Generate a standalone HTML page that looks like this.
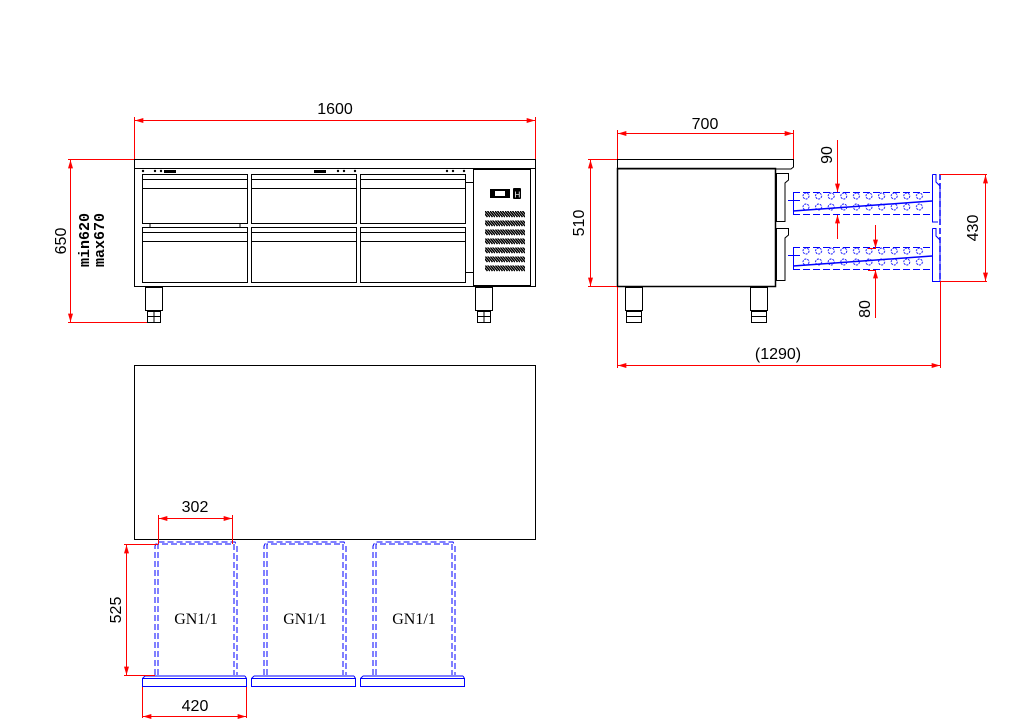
<!DOCTYPE html>
<html><head><meta charset="utf-8"><style>
html,body{margin:0;padding:0;background:#fff;}
svg{display:block;}
text{font-family:"Liberation Serif","DejaVu Serif",serif;font-size:16px;fill:#000;}
</style></head><body>
<svg width="1033" height="728" viewBox="0 0 1033 728" xmlns="http://www.w3.org/2000/svg">
<defs>
<marker id="a" viewBox="0 0 10 6" refX="10" refY="3" markerWidth="12" markerHeight="5" orient="auto-start-reverse" markerUnits="userSpaceOnUse"><path d="M0,0L10,3L0,6z" fill="#f00"/></marker>
<pattern id="vent" x="485" y="211" width="5" height="9" patternUnits="userSpaceOnUse"><path d="M0,0L5,6M-2.5,0L2.5,6M2.5,0L7.5,6" stroke="#000" stroke-width="1.5"/></pattern>
<pattern id="circ" x="800" y="192" width="12.6" height="11" patternUnits="userSpaceOnUse"><circle cx="6" cy="4" r="3" fill="none" stroke="#00f" stroke-width="0.9" stroke-dasharray="2 1"/></pattern>
</defs>

<!-- FRONT VIEW -->
<g fill="none" stroke="#000" stroke-width="1">
<rect x="134.5" y="159.5" width="401" height="9"/>
<rect x="134.5" y="168.5" width="401" height="118"/>
<g>
<rect x="142.5" y="174.5" width="105" height="49"/><line x1="143" y1="179.5" x2="247" y2="179.5"/><line x1="143" y1="188.5" x2="247" y2="188.5"/>
<rect x="251.5" y="174.5" width="105" height="49"/><line x1="252" y1="179.5" x2="356" y2="179.5"/><line x1="252" y1="188.5" x2="356" y2="188.5"/>
<rect x="360.5" y="174.5" width="105" height="49"/><line x1="361" y1="179.5" x2="465" y2="179.5"/><line x1="361" y1="188.5" x2="465" y2="188.5"/>
<rect x="142.5" y="227.5" width="105" height="55"/><line x1="143" y1="232.5" x2="247" y2="232.5"/><line x1="143" y1="241.5" x2="247" y2="241.5"/>
<rect x="251.5" y="227.5" width="105" height="55"/><line x1="252" y1="232.5" x2="356" y2="232.5"/><line x1="252" y1="241.5" x2="356" y2="241.5"/>
<rect x="360.5" y="227.5" width="105" height="55"/><line x1="361" y1="232.5" x2="465" y2="232.5"/><line x1="361" y1="241.5" x2="465" y2="241.5"/>
</g>
<line x1="466" y1="182.5" x2="473" y2="182.5"/><line x1="466" y1="272.5" x2="473" y2="272.5"/>
<line x1="150" y1="223.5" x2="150" y2="227"/><line x1="240" y1="223.5" x2="240" y2="227"/>
<rect x="473.5" y="169.5" width="57" height="116"/>
<line x1="530.5" y1="169" x2="530.5" y2="286"/>
<rect x="145.5" y="287.5" width="17" height="23"/><rect x="147.5" y="311.5" width="13" height="11"/>
<line x1="148" y1="316.5" x2="160" y2="316.5"/><line x1="154" y1="312" x2="154" y2="322"/>
<rect x="475.5" y="287.5" width="17" height="23"/><rect x="477.5" y="311.5" width="13" height="11"/>
<line x1="478" y1="316.5" x2="490" y2="316.5"/><line x1="484" y1="312" x2="484" y2="322"/>
</g>
<g fill="#000">
<circle cx="143" cy="171" r="1.2"/><circle cx="155" cy="171" r="1.2"/><circle cx="161" cy="171" r="1.2"/>
<rect x="164" y="170" width="12" height="3"/><rect x="314" y="170" width="12" height="3"/>
<circle cx="338" cy="171" r="1.2"/><circle cx="344" cy="171" r="1.2"/><circle cx="355" cy="171" r="1.2"/>
<circle cx="447" cy="171" r="1.2"/><circle cx="453" cy="171" r="1.2"/><circle cx="464" cy="171" r="1.2"/>
<rect x="490" y="189" width="20" height="9"/><rect x="513" y="188" width="8" height="11" rx="1"/>
</g>
<rect x="495" y="191" width="10" height="5" fill="#fff"/>
<text x="514.5" y="197.5" style="font-size:8px;fill:#fff;font-family:'Liberation Sans',sans-serif">H</text>
<rect x="485" y="211" width="40" height="62" fill="url(#vent)"/>
<g stroke="#fff" stroke-width="2"><line x1="484" y1="219.5" x2="526" y2="219.5"/><line x1="484" y1="228.5" x2="526" y2="228.5"/><line x1="484" y1="237.5" x2="526" y2="237.5"/><line x1="484" y1="246.5" x2="526" y2="246.5"/><line x1="484" y1="255.5" x2="526" y2="255.5"/><line x1="484" y1="264.5" x2="526" y2="264.5"/></g>

<g stroke="#f00" stroke-width="1" fill="none">
<line x1="134.5" y1="117" x2="134.5" y2="159"/><line x1="535.5" y1="117" x2="535.5" y2="159"/>
<line x1="135" y1="120.5" x2="535" y2="120.5" marker-start="url(#a)" marker-end="url(#a)"/>
<line x1="68" y1="159.5" x2="134" y2="159.5"/><line x1="68" y1="322.5" x2="147" y2="322.5"/>
<line x1="70.5" y1="160" x2="70.5" y2="322" marker-start="url(#a)" marker-end="url(#a)"/>
</g>
<text x="335" y="114" text-anchor="middle" style="font-family:'Liberation Sans',sans-serif">1600</text>
<text transform="translate(66,241) rotate(-90)" text-anchor="middle" style="font-family:'Liberation Sans',sans-serif">650</text>
<text transform="translate(89,240) rotate(-90)" text-anchor="middle" style="font-family:'Liberation Mono',monospace;font-size:15px;font-weight:bold">min620</text>
<text transform="translate(104,240) rotate(-90)" text-anchor="middle" style="font-family:'Liberation Mono',monospace;font-size:15px;font-weight:bold">max670</text>

<!-- SIDE VIEW -->
<g fill="none" stroke="#000" stroke-width="1">
<path d="M617.5,159.5H793.5V167L791,169H617.5Z"/>
<rect x="617.5" y="168.5" width="158" height="118" stroke-width="1.5"/>
<path d="M776.5,173.5H788.5V180L785,183V221.5H776.5Z"/>
<path d="M776.5,228.5H788.5V235L785,238V280.5H776.5Z"/>
<rect x="625.5" y="287.5" width="17" height="23"/><rect x="626.5" y="311.5" width="15" height="11"/>
<line x1="627" y1="316.5" x2="641" y2="316.5"/>
<rect x="750.5" y="287.5" width="17" height="23"/><rect x="751.5" y="311.5" width="15" height="11"/>
<line x1="752" y1="316.5" x2="766" y2="316.5"/>
</g>
<g fill="none" stroke="#00f" stroke-width="1">
<line x1="793" y1="192.5" x2="932" y2="192.5" stroke-dasharray="7 3"/>
<line x1="793" y1="214.5" x2="932" y2="214.5" stroke-dasharray="7 3"/>
<line x1="788" y1="200.5" x2="800" y2="200.5"/>
<line x1="793.5" y1="192" x2="793.5" y2="215"/>
<line x1="932.5" y1="192" x2="932.5" y2="215"/>
<line x1="793" y1="211" x2="932" y2="201" stroke-width="1.5"/>
<line x1="793" y1="247.5" x2="932" y2="247.5" stroke-dasharray="7 3"/>
<line x1="793" y1="269.5" x2="932" y2="269.5" stroke-dasharray="7 3"/>
<line x1="788" y1="255.5" x2="800" y2="255.5"/>
<line x1="793.5" y1="247" x2="793.5" y2="270"/>
<line x1="932.5" y1="247" x2="932.5" y2="270"/>
<line x1="793" y1="266" x2="932" y2="256" stroke-width="1.5"/>
<path d="M932.5,174.5H936V182L940,186V222M932.5,174.5V222H938"/>
<path d="M932.5,228.5H936V236L940,240V281.5M932.5,228.5V281.5H940"/>
<line x1="940" y1="174" x2="940" y2="282" stroke-dasharray="6 3" stroke-width="1.5"/>
</g>
<rect x="800" y="192" width="128" height="22" fill="url(#circ)"/>
<rect x="800" y="247" width="128" height="22" fill="url(#circ)"/>
<g stroke="#f00" stroke-width="1" fill="none">
<line x1="617.5" y1="130" x2="617.5" y2="159"/><line x1="793.5" y1="130" x2="793.5" y2="159"/>
<line x1="618" y1="133.5" x2="793" y2="133.5" marker-start="url(#a)" marker-end="url(#a)"/>
<line x1="588" y1="159.5" x2="617" y2="159.5"/><line x1="588" y1="286.5" x2="617" y2="286.5"/>
<line x1="590.5" y1="160" x2="590.5" y2="286" marker-start="url(#a)" marker-end="url(#a)"/>
<line x1="940" y1="174.5" x2="987" y2="174.5"/><line x1="940" y1="281.5" x2="987" y2="281.5"/>
<line x1="985.5" y1="175" x2="985.5" y2="281" marker-start="url(#a)" marker-end="url(#a)"/>
<line x1="617.5" y1="287" x2="617.5" y2="368"/><line x1="940.5" y1="282" x2="940.5" y2="368"/>
<line x1="618" y1="365.5" x2="940" y2="365.5" marker-start="url(#a)" marker-end="url(#a)"/>
<line x1="837.5" y1="140" x2="837.5" y2="192" marker-end="url(#a)"/>
<line x1="837.5" y1="239" x2="837.5" y2="215" marker-end="url(#a)"/>
<line x1="875.5" y1="225" x2="875.5" y2="248" marker-end="url(#a)"/>
<line x1="875.5" y1="318" x2="875.5" y2="270" marker-end="url(#a)"/>
<line x1="868" y1="248.5" x2="876" y2="248.5"/><line x1="868" y1="270.5" x2="876" y2="270.5"/>
</g>
<text x="705" y="129" text-anchor="middle" style="font-family:'Liberation Sans',sans-serif">700</text>
<text transform="translate(584,223) rotate(-90)" text-anchor="middle" style="font-family:'Liberation Sans',sans-serif">510</text>
<text transform="translate(978,228) rotate(-90)" text-anchor="middle" style="font-family:'Liberation Sans',sans-serif">430</text>
<text transform="translate(832,155) rotate(-90)" text-anchor="middle" style="font-family:'Liberation Sans',sans-serif">90</text>
<text transform="translate(870,309) rotate(-90)" text-anchor="middle" style="font-family:'Liberation Sans',sans-serif">80</text>
<text x="778" y="359" text-anchor="middle" style="font-family:'Liberation Sans',sans-serif">(1290)</text>

<!-- TOP VIEW -->
<rect x="134.5" y="365.5" width="401" height="174" fill="none" stroke="#000"/>
<g fill="none" stroke="#00f" stroke-width="1" stroke-dasharray="6 3">
<path d="M155,675V546L157,542H235L237,546V675"/><path d="M158,675V544H234V675"/>
<path d="M264,675V546L266,542H344L346,546V675"/><path d="M267,675V544H343V675"/>
<path d="M373,675V546L375,542H453L455,546V675"/><path d="M376,675V544H452V675"/>
</g>
<g fill="none" stroke="#00f" stroke-width="1">
<path d="M145,676H245"/><rect x="142.5" y="678.5" width="104" height="8"/><path d="M142.5,678.5L145,676M246.5,678.5L245,676"/>
<path d="M254,676H354"/><rect x="251.5" y="678.5" width="104" height="8"/><path d="M251.5,678.5L254,676M355.5,678.5L354,676"/>
<path d="M363,676H463"/><rect x="360.5" y="678.5" width="104" height="8"/><path d="M360.5,678.5L363,676M464.5,678.5L463,676"/>
</g>
<text x="196" y="624" text-anchor="middle">GN1/1</text>
<text x="305" y="624" text-anchor="middle">GN1/1</text>
<text x="414" y="624" text-anchor="middle">GN1/1</text>
<g stroke="#f00" stroke-width="1" fill="none">
<line x1="158.5" y1="515" x2="158.5" y2="544"/><line x1="232.5" y1="515" x2="232.5" y2="544"/>
<line x1="159" y1="518.5" x2="232" y2="518.5" marker-start="url(#a)" marker-end="url(#a)"/>
<line x1="124" y1="544.5" x2="158" y2="544.5"/><line x1="124" y1="675.5" x2="155" y2="675.5"/>
<line x1="126.5" y1="545" x2="126.5" y2="675" marker-start="url(#a)" marker-end="url(#a)"/>
<line x1="142.5" y1="687" x2="142.5" y2="718"/><line x1="246.5" y1="687" x2="246.5" y2="718"/>
<line x1="143" y1="716.5" x2="246" y2="716.5" marker-start="url(#a)" marker-end="url(#a)"/>
</g>
<text x="195" y="512" text-anchor="middle" style="font-family:'Liberation Sans',sans-serif">302</text>
<text transform="translate(121,610) rotate(-90)" text-anchor="middle" style="font-family:'Liberation Sans',sans-serif">525</text>
<text x="195" y="711" text-anchor="middle" style="font-family:'Liberation Sans',sans-serif">420</text>
</svg>
</body></html>
